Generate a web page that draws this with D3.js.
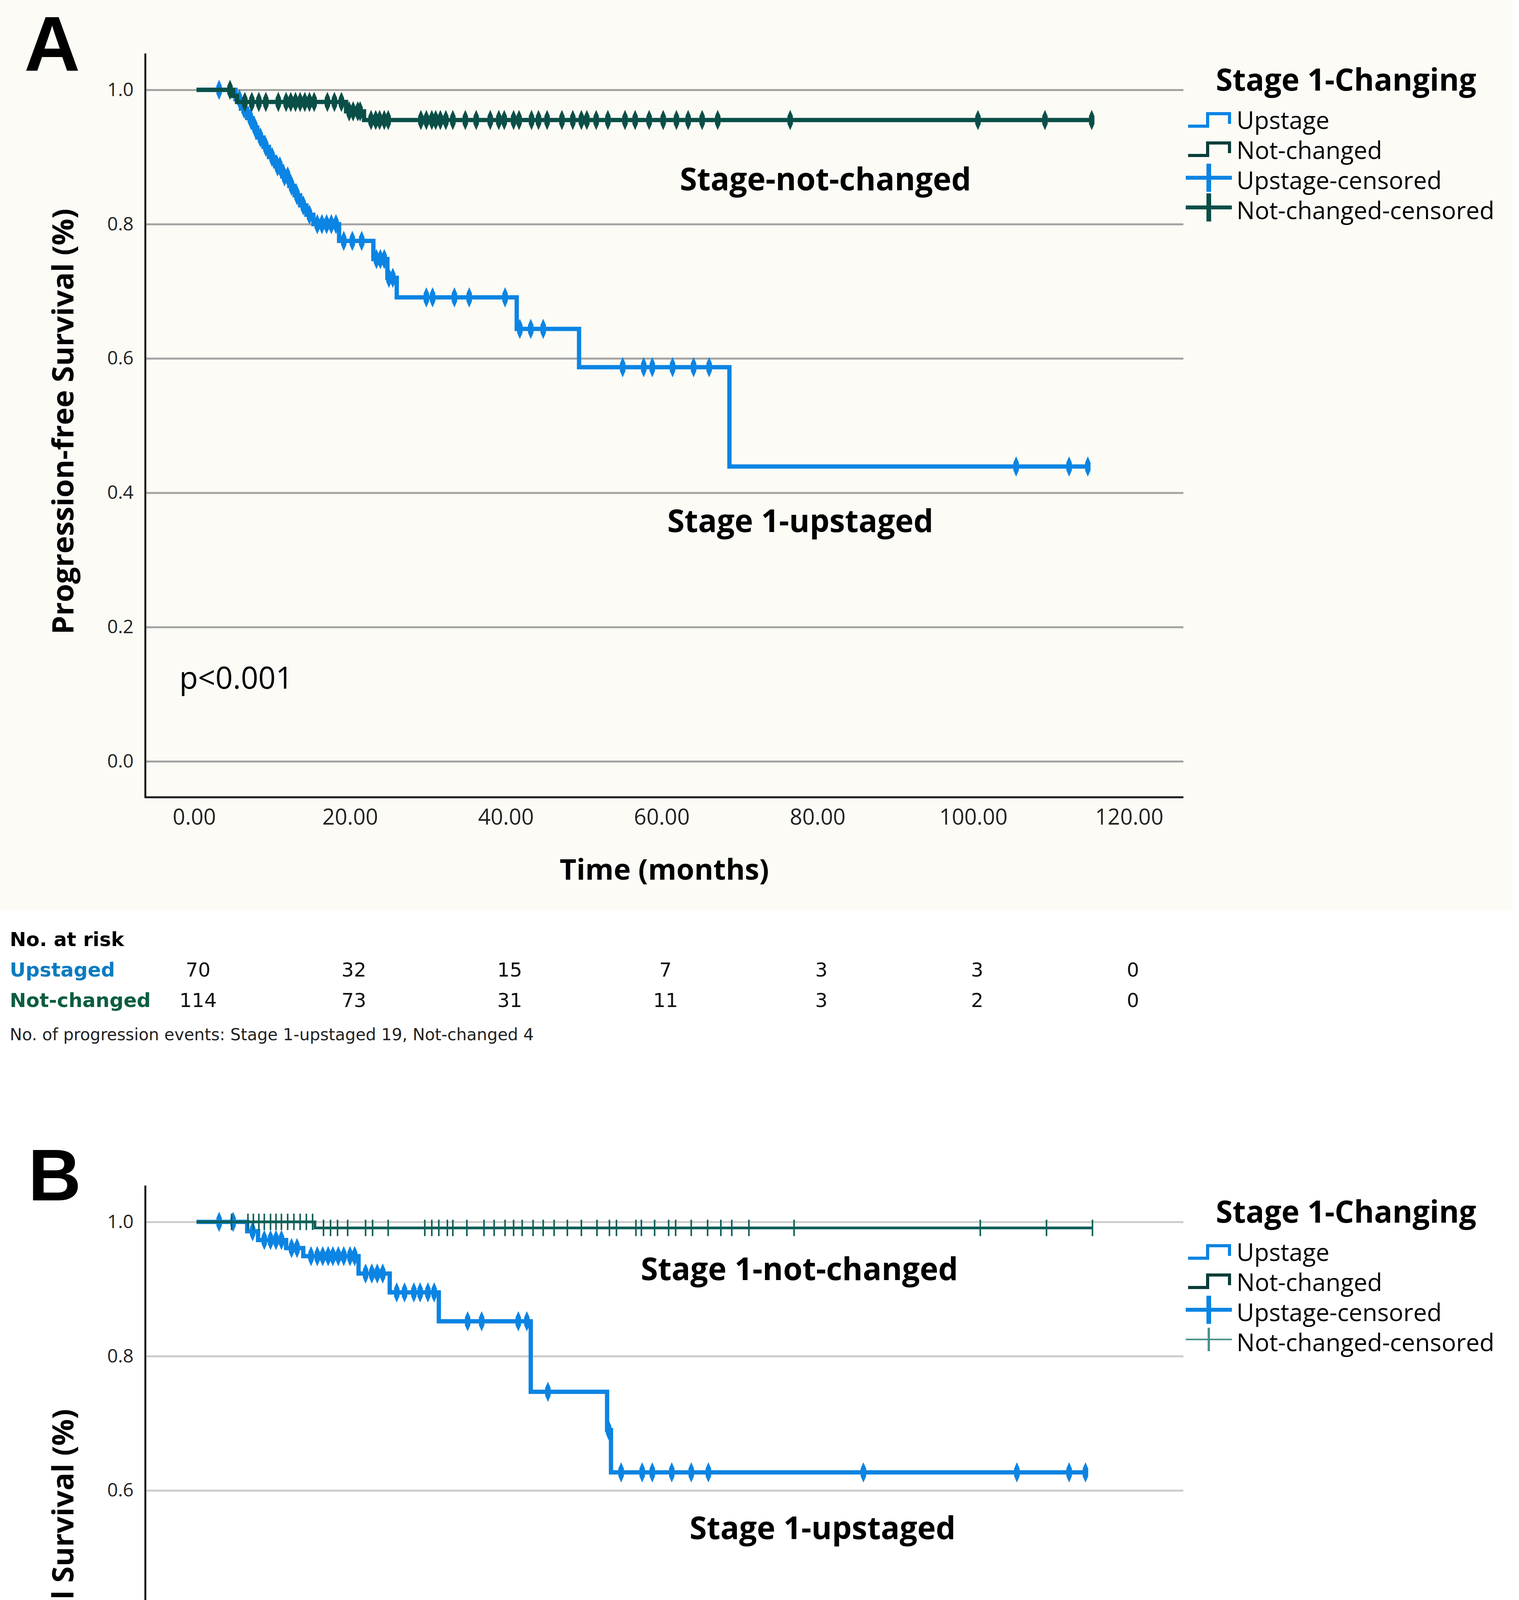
<!DOCTYPE html>
<html>
<head>
<meta charset="utf-8">
<script src="https://cdn.jsdelivr.net/npm/d3@7"></script>
<style>
  html, body { margin: 0; padding: 0; background: #fff; width: 3888px; height: 5568px; overflow: hidden; }
  svg { display: block; }
</style>
</head>
<body>
<svg id="chart" width="3888" height="5568" font-family="Open Sans, DejaVu Sans, sans-serif"></svg>
<script>
// ---------- data ----------
var monthTicks = [0, 20, 40, 60, 80, 100, 120];
var survTicks = [0, 0.2, 0.4, 0.6, 0.8, 1.0];
var riskTimes = [0, 20, 40, 60, 80, 100, 120];

// A: progression-free survival, Upstage
var pfsUpTime = [5.3, 6.0, 6.8, 7.5, 8.1, 8.9, 9.6, 10.4, 11.3, 12.2, 12.9, 13.6, 14.4, 15.3,
                 18.6, 23.0, 24.8, 26.0, 41.4, 49.4, 68.7];
var pfsUpSurv = [0.986, 0.972, 0.958, 0.944, 0.929, 0.915, 0.900, 0.886, 0.871, 0.857, 0.843, 0.828, 0.814, 0.800,
                 0.775, 0.748, 0.720, 0.691, 0.644, 0.587, 0.439];
var pfsUpCens = [3.2, 5.8, 6.4, 7.2, 7.8, 8.5, 9.2, 10.0, 10.7, 11.0, 11.6, 12.0, 12.5, 13.2, 14.0, 14.8,
                 15.8, 16.4, 17.0, 17.6, 18.2, 19.2, 20.3, 21.5, 23.4, 23.9, 24.4, 25.0, 25.5,
                 29.8, 30.6, 33.4, 35.3, 39.9, 41.8, 43.2, 44.8, 55.0, 57.7, 58.8, 61.4, 64.1, 66.1,
                 105.5, 112.3, 114.7];
var pfsUpEnd = 114.7;

// A: progression-free survival, Not-changed
var pfsNcTime = [5.0, 5.5, 19.5, 21.8];
var pfsNcSurv = [0.991, 0.982, 0.968, 0.955];
var pfsNcCens = [4.6, 6.5, 7.4, 8.3, 9.2, 10.8, 11.8, 12.4, 13.0, 13.6, 14.2, 14.8, 15.4, 17.1, 18.0, 18.9,
                 19.9, 20.4, 21.0, 21.3, 22.7, 23.3, 23.8, 24.4, 24.9, 29.1, 29.8, 30.5, 31.0, 31.6, 32.3,
                 33.2, 34.8, 36.2, 38.0, 39.1, 39.8, 41.0, 41.7, 43.3, 44.2, 45.3, 47.2, 48.6, 49.7, 50.4,
                 51.6, 53.1, 55.3, 56.6, 58.4, 60.2, 61.9, 63.4, 65.2, 67.2, 76.5, 100.6, 109.2, 115.2];
var pfsNcEnd = 115.2;

// B: overall survival, Upstage
var osUpTime = [6.8, 8.2, 11.8, 14.0, 21.1, 25.1, 31.4, 43.2, 53.0, 53.5];
var osUpSurv = [0.986, 0.973, 0.961, 0.949, 0.923, 0.895, 0.852, 0.747, 0.690, 0.627];
var osUpCens = [3.2, 5.0, 7.5, 9.0, 9.8, 10.5, 11.2, 12.5, 13.2, 15.0, 15.8, 16.5, 17.2, 17.8, 18.5, 19.2,
                20.0, 20.6, 22.0, 22.8, 23.5, 24.2, 26.0, 27.0, 28.2, 29.0, 30.0, 30.8, 35.1, 36.9,
                41.6, 42.7, 45.4, 53.2, 54.8, 57.5, 58.8, 61.3, 63.8, 66.0, 85.9, 105.6, 112.3, 114.4];
var osUpEnd = 114.4;

// B: overall survival, Not-changed
var osNcTime = [15.5];
var osNcSurv = [0.991];
var osNcCens = [4.8, 6.9, 7.6, 8.3, 9.0, 9.8, 10.5, 11.2, 12.0, 12.8, 13.6, 14.4, 15.2, 16.6, 17.5, 18.4,
                19.7, 22.0, 22.9, 24.9, 29.6, 30.5, 31.4, 32.5, 33.2, 35.0, 37.2, 38.5, 39.9, 41.0, 42.1,
                43.5, 44.8, 46.2, 47.9, 49.7, 51.7, 53.3, 54.2, 56.7, 57.4, 59.1, 60.9, 61.8, 63.8, 65.9,
                67.6, 69.0, 71.2, 77.0, 100.9, 109.4, 115.3];
var osNcEnd = 115.3;

// numbers at risk
var riskPfsUp = [70, 32, 15, 7, 3, 3, 0];
var riskPfsNc = [114, 73, 31, 11, 3, 2, 0];
var riskOsUp = [70, 40, 17, 7, 4, 3, 0];
var riskOsNc = [114, 76, 33, 13, 3, 2, 0];

var legendLabels = ["Upstage", "Not-changed", "Upstage-censored", "Not-changed-censored"];

// ---------- drawing ----------
var BLUE = "#0b84e3";
var svg = d3.select("#chart");

var x = d3.scaleLinear().domain([0, 120]).range([497, 2890]);
var y = d3.scaleLinear().domain([0, 1]).range([1949, 230]);
var plotL = 372, plotR = 3029, axisTop = 137, axisBottom = 2041;

var kmLine = d3.line()
  .x(function(d) { return x(d[0]); })
  .y(function(d) { return y(d[1]); })
  .curve(d3.curveStepAfter);

function kmPoints(times, surv, end) {
  var pts = [[0.3, 1]];
  times.forEach(function(t, i) { pts.push([t, surv[i]]); });
  pts.push([end, surv[surv.length - 1]]);
  return pts;
}
function survAt(times, surv, t) {
  var i = d3.bisectRight(times, t);
  return i === 0 ? 1 : surv[i - 1];
}
var spindle = "M0,-26L7,-10L7,10L0,26L-7,10L-7,-10Z";

function drawCurve(g, s, color, width, thinMarks) {
  g.append("path")
    .attr("d", kmLine(kmPoints(s.time, s.surv, s.end)))
    .attr("fill", "none")
    .attr("stroke", color)
    .attr("stroke-width", width);
  var marks = g.append("g").selectAll("path").data(s.cens).enter().append("path")
    .attr("transform", function(t) { return "translate(" + x(t) + "," + y(survAt(s.time, s.surv, t)) + ")"; });
  if (thinMarks) {
    marks.attr("d", "M0,-21V21").attr("stroke", color).attr("stroke-width", 4).attr("fill", "none");
  } else {
    marks.attr("d", spindle).attr("fill", color);
  }
}

function drawPanel(cfg) {
  var g = svg.append("g").attr("transform", "translate(0," + cfg.top + ")");
  if (cfg.bg) g.append("rect").attr("x", 0).attr("y", -cfg.top).attr("width", 3870).attr("height", 2330).attr("fill", cfg.bg);

  // gridlines + y tick labels
  var ga = g.append("g").attr("transform", "translate(" + plotL + ",0)")
    .call(d3.axisLeft(y).tickValues(survTicks).tickSize(-(plotR - plotL)).tickPadding(30).tickFormat(d3.format(".1f")));
  ga.select(".domain").remove();
  ga.selectAll(".tick line").attr("stroke", cfg.grid).attr("stroke-width", 5);
  ga.selectAll(".tick text").attr("font-size", 48).attr("fill", "#222").attr("font-family", "Open Sans");

  // x tick labels
  var gx = g.append("g").attr("transform", "translate(0," + axisBottom + ")")
    .call(d3.axisBottom(x).tickValues(monthTicks).tickSize(0).tickPadding(30).tickFormat(d3.format(".2f")));
  gx.select(".domain").remove();
  gx.selectAll(".tick text").attr("font-size", 56).attr("fill", "#222").attr("font-family", "Open Sans");

  // axis lines
  g.append("line").attr("x1", plotL).attr("x2", plotL).attr("y1", axisTop).attr("y2", axisBottom)
    .attr("stroke", "#1a1a1a").attr("stroke-width", 5);
  g.append("line").attr("x1", plotL - 2).attr("x2", plotR).attr("y1", axisBottom).attr("y2", axisBottom)
    .attr("stroke", "#1a1a1a").attr("stroke-width", 5);

  // curves (blue underneath)
  drawCurve(g, cfg.up, BLUE, 11, false);
  drawCurve(g, cfg.nc, cfg.ncColor, cfg.ncWidth, cfg.ncThin);

  // panel letter, titles and labels
  g.append("text").attr("x", cfg.letterX).attr("y", cfg.letterY).attr("font-size", cfg.letterSize)
    .attr("font-family", "Liberation Sans").attr("font-weight", 700).text(cfg.letter);
  g.append("text").attr("transform", "translate(188,1079) rotate(-90)").attr("text-anchor", "middle")
    .attr("font-size", 76).attr("font-weight", 700).text(cfg.yTitle);
  g.append("text").attr("x", (plotL + plotR) / 2).attr("y", 2252).attr("text-anchor", "middle")
    .attr("font-size", 74).attr("font-weight", 700).text("Time (months)");
  g.append("text").attr("x", 459).attr("y", 1763).attr("font-size", 78).text("p<0.001");
  cfg.labels.forEach(function(l) {
    g.append("text").attr("x", l.x).attr("y", l.y).attr("font-size", 80).attr("font-weight", 700).text(l.text);
  });

  // legend
  var lg = g.append("g");
  lg.append("text").attr("x", 3112).attr("y", 232).attr("font-size", 78).attr("font-weight", 700).text("Stage 1-Changing");
  var base = [330, 407, 484, 561];
  lg.selectAll("text.item").data(legendLabels).enter().append("text").attr("class", "item")
    .attr("x", 3165).attr("y", function(d, i) { return base[i]; })
    .attr("font-size", 62).text(function(d) { return d; });
  var steps = [{yb: 323, yt: 291, c: BLUE}, {yb: 398, yt: 366, c: cfg.ncLegend}];
  steps.forEach(function(s) {
    lg.append("path").attr("d", "M3041," + s.yb + "H3091V" + s.yt + "H3147V" + (s.yt + 26))
      .attr("fill", "none").attr("stroke", s.c).attr("stroke-width", 8);
  });
  var cens = [{cy: 455, c: BLUE, w: 10, h: 36}, {cy: 531, c: cfg.ncCensLegend, w: cfg.ncThin ? 4 : 10, h: cfg.ncThin ? 30 : 36}];
  cens.forEach(function(s) {
    lg.append("line").attr("x1", 3035).attr("x2", 3153).attr("y1", s.cy).attr("y2", s.cy)
      .attr("stroke", s.c).attr("stroke-width", s.w);
    lg.append("line").attr("x1", 3094).attr("x2", 3094).attr("y1", s.cy - s.h).attr("y2", s.cy + s.h)
      .attr("stroke", s.c).attr("stroke-width", s.w + 2);
  });
}

drawPanel({
  top: 0, bg: "#fcfbf6", grid: "#a3a3a3",
  letter: "A", letterX: 62, letterY: 181, letterSize: 198,
  yTitle: "Progression-free Survival (%)",
  up: {time: pfsUpTime, surv: pfsUpSurv, cens: pfsUpCens, end: pfsUpEnd},
  nc: {time: pfsNcTime, surv: pfsNcSurv, cens: pfsNcCens, end: pfsNcEnd},
  ncColor: "#0a4f47", ncWidth: 11, ncThin: false, ncLegend: "#0b3d38", ncCensLegend: "#0a4f47",
  labels: [{text: "Stage-not-changed", x: 1740, y: 487}, {text: "Stage 1-upstaged", x: 1708, y: 1362}]
});
drawPanel({
  top: 2898, bg: null, grid: "#cccccc",
  letter: "B", letterX: 72, letterY: 175, letterSize: 188,
  yTitle: "Overall Survival (%)",
  up: {time: osUpTime, surv: osUpSurv, cens: osUpCens, end: osUpEnd},
  nc: {time: osNcTime, surv: osNcSurv, cens: osNcCens, end: osNcEnd},
  ncColor: "#0e5f58", ncWidth: 7, ncThin: true, ncLegend: "#0b3d38", ncCensLegend: "#4a9188",
  labels: [{text: "Stage 1-not-changed", x: 1640, y: 379}, {text: "Stage 1-upstaged", x: 1765, y: 1042}]
});

// numbers-at-risk tables
function drawRisk(cfg) {
  var g = svg.append("g").attr("font-family", "DejaVu Sans");
  g.append("text").attr("x", 25).attr("y", cfg.y[0]).attr("font-size", 50).attr("font-weight", 700).text("No. at risk");
  var rows = [{label: "Upstaged", color: "#0a7cc1", vals: cfg.up, y: cfg.y[1]},
              {label: "Not-changed", color: "#0b5e3f", vals: cfg.nc, y: cfg.y[2]}];
  rows.forEach(function(r) {
    g.append("text").attr("x", 25).attr("y", r.y).attr("font-size", 50).attr("font-weight", 700)
      .attr("fill", r.color).text(r.label);
    g.selectAll(null).data(r.vals).enter().append("text")
      .attr("x", function(d, i) { return x(riskTimes[i]) + 10; })
      .attr("y", r.y).attr("text-anchor", "middle").attr("font-size", 50).attr("fill", "#111")
      .text(function(d) { return d; });
  });
  g.append("text").attr("x", 25).attr("y", cfg.y[3]).attr("font-size", 42).attr("fill", "#222").text(cfg.note);
}
drawRisk({y: [2422, 2500, 2578, 2663], up: riskPfsUp, nc: riskPfsNc,
          note: "No. of progression events: Stage 1-upstaged 19, Not-changed 4"});
drawRisk({y: [5282, 5361, 5439, 5524], up: riskOsUp, nc: riskOsNc,
          note: "No. of deaths: Stage 1-upstaged 10, Not-changed 1"});
</script>
</body>
</html>
